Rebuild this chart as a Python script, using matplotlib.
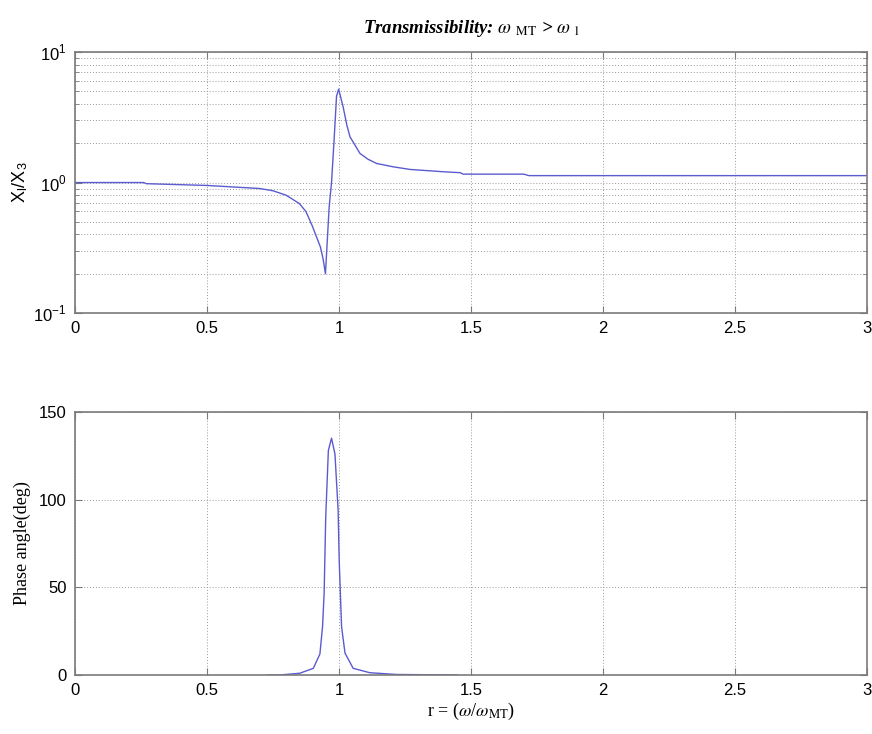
import numpy as np
import matplotlib
matplotlib.use("Agg")
import matplotlib.pyplot as plt
from matplotlib.ticker import LogLocator, NullFormatter, FixedLocator

plt.rcParams["mathtext.fontset"] = "stix"

# Top panel: transmissibility magnitude
mag_r = [0.0, 0.26, 0.27, 0.5, 0.7, 0.75, 0.8, 0.85, 0.875, 0.9, 0.93, 0.94, 0.949,
         0.963, 0.972, 0.981, 0.991, 0.999, 1.016, 1.03, 1.042, 1.08, 1.11, 1.143,
         1.206, 1.27, 1.395, 1.46, 1.47, 1.70, 1.72, 3.0]
mag_val = [1.0, 1.0, 0.98, 0.95, 0.90, 0.865, 0.80, 0.69, 0.60, 0.46, 0.32, 0.26, 0.20,
           0.65, 1.0, 2.0, 4.6, 5.2, 3.8, 2.76, 2.24, 1.67, 1.51, 1.40,
           1.32, 1.26, 1.21, 1.19, 1.16, 1.16, 1.13, 1.13]

# Bottom panel: phase angle (deg)
ph_r = [0.73, 0.776, 0.852, 0.903, 0.928, 0.938, 0.944, 0.950, 0.960, 0.972,
        0.985, 0.997, 1.001, 1.010, 1.023, 1.054, 1.117, 1.218, 1.45]
ph_val = [0.0, 0.0, 1.0, 3.8, 12.0, 27.6, 46.6, 90.0, 128.0, 135.0,
          126.0, 94.0, 65.6, 27.6, 12.5, 3.8, 1.3, 0.3, 0.0]

x_ticks = [0, 0.5, 1, 1.5, 2, 2.5, 3]
x_ticklabels = ["0", "0.5", "1", "1.5", "2", "2.5", "3"]
ph_ticks = [0, 50, 100, 150]

line_color = "#5b5bd0"
spine_color = "#7a7a7a"
grid_kw = dict(color="#9a9a9a", linestyle=(0, (1, 2)), linewidth=0.7)

fig = plt.figure(figsize=(8.72, 7.34), dpi=100)
ax1 = fig.add_axes([0.086, 0.5736, 0.908, 0.3554])
ax2 = fig.add_axes([0.086, 0.0804, 0.908, 0.3584])

for ax in (ax1, ax2):
    for s in ax.spines.values():
        s.set_color(spine_color)
        s.set_linewidth(1.2)
    ax.tick_params(which="both", direction="in", top=True, right=True,
                   color=spine_color, labelsize=12, pad=6)
    ax.set_xlim(0, 3)
    ax.set_xticks(x_ticks)
    ax.set_xticklabels(x_ticklabels, fontfamily="Liberation Sans")

# Top
ax1.semilogy(mag_r, mag_val, color=line_color, linewidth=1.0)
ax1.set_ylim(0.1, 10)
ax1.yaxis.set_major_locator(FixedLocator([0.1, 1, 10]))
ax1.yaxis.set_minor_locator(LogLocator(base=10, subs=np.arange(2, 10), numticks=20))
ax1.yaxis.set_minor_formatter(NullFormatter())
ax1.set_yticklabels([r"10$^{\mathregular{-1}}$", r"10$^{\mathregular{0}}$", r"10$^{\mathregular{1}}$"],
                    fontfamily="Liberation Sans", fontsize=12)
ax1.grid(True, which="both", **grid_kw)
ax1.tick_params(which="major", length=5)
ax1.tick_params(which="minor", length=3)
ax1.set_ylabel(r"X$_\mathregular{l}$/X$_\mathregular{3}$", fontfamily="Liberation Sans",
               fontsize=13, labelpad=2)
ax1.set_title(r"Transmissibility: $\omega$ $_{\mathrm{MT}}$ > $\omega$ $_{\mathrm{l}}$",
              fontfamily="Liberation Serif", fontstyle="italic", fontweight="bold",
              fontsize=13.5, pad=14)

# Bottom
ax2.plot(ph_r, ph_val, color=line_color, linewidth=1.0)
ax2.set_ylim(0, 150)
ax2.set_yticks(ph_ticks)
ax2.set_yticklabels([str(v) for v in ph_ticks], fontfamily="Liberation Sans", fontsize=12)
ax2.grid(True, which="major", **grid_kw)
ax2.tick_params(which="major", length=5)
ax2.set_ylabel("Phase angle(deg)", fontfamily="Liberation Serif", fontsize=13, labelpad=6)
ax2.set_xlabel(r"r = ($\omega$/$\omega$$_{\mathrm{MT}}$)", fontfamily="Liberation Serif",
               fontsize=13, labelpad=2)

fig.savefig("out.png", dpi=100)
